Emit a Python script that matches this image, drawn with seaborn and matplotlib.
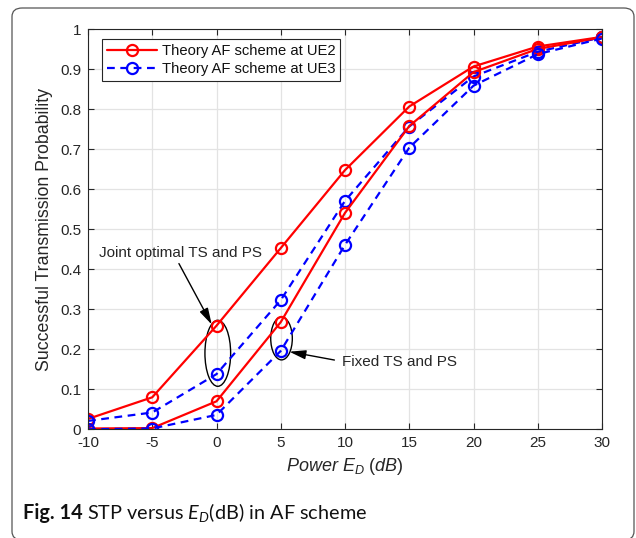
import matplotlib
matplotlib.use("Agg")
import matplotlib.pyplot as plt
import seaborn as sns
import pandas as pd
from matplotlib.patches import Ellipse, FancyBboxPatch
from matplotlib.lines import Line2D

# ---- data ----
power_db = [-10, -5, 0, 5, 10, 15, 20, 25, 30]
ue2_joint = [0.026, 0.080, 0.259, 0.453, 0.648, 0.807, 0.907, 0.957, 0.981]
ue3_joint = [0.021, 0.042, 0.138, 0.323, 0.571, 0.757, 0.882, 0.944, 0.980]
ue2_fixed = [0.002, 0.003, 0.070, 0.268, 0.541, 0.758, 0.893, 0.951, 0.980]
ue3_fixed = [0.000, 0.002, 0.036, 0.196, 0.461, 0.704, 0.859, 0.938, 0.977]

series_names = ["UE2 joint", "UE3 joint", "UE2 fixed", "UE3 fixed"]
series_vals = [ue2_joint, ue3_joint, ue2_fixed, ue3_fixed]
legend_labels = ["Theory AF scheme at UE2", "Theory AF scheme at UE3"]
xticks = [-10, -5, 0, 5, 10, 15, 20, 25, 30]
yticks = [0, 0.1, 0.2, 0.3, 0.4, 0.5, 0.6, 0.7, 0.8, 0.9, 1.0]
ytick_labels = ["0", "0.1", "0.2", "0.3", "0.4", "0.5", "0.6", "0.7", "0.8", "0.9", "1"]

rows = []
for name, vals in zip(series_names, series_vals):
    for x, y in zip(power_db, vals):
        rows.append({"power": x, "stp": y, "series": name})
df = pd.DataFrame(rows)

sns.set_theme(style="white")
plt.rcParams["font.family"] = ["Liberation Sans", "DejaVu Sans"]
plt.rcParams["mathtext.fontset"] = "custom"
plt.rcParams["mathtext.rm"] = "Liberation Sans"
plt.rcParams["mathtext.it"] = "Liberation Sans:italic"

fig = plt.figure(figsize=(6.36, 5.38), dpi=100)
ax = fig.add_axes([88 / 636, 1 - 429.3 / 538, (602 - 88) / 636, 400 / 538])

dash = (0, (3.5, 2.5))
styles = {
    "UE2 joint": ("#ff0000", "-"),
    "UE2 fixed": ("#ff0000", "-"),
    "UE3 joint": ("#0000ff", dash),
    "UE3 fixed": ("#0000ff", dash),
}
for name in series_names:
    color, ls = styles[name]
    sub = df[df["series"] == name]
    sns.lineplot(data=sub, x="power", y="stp", ax=ax, color=color,
                 linewidth=1.6, marker="o", markersize=8, markerfacecolor="none",
                 markeredgecolor=color, markeredgewidth=1.6, legend=False)
    ax.lines[-1].set_linestyle(ls)

ax.set_xlim(-10, 30)
ax.set_ylim(0, 1)
ax.set_xticks(xticks)
ax.set_xticklabels([str(t) for t in xticks])
ax.set_yticks(yticks)
ax.set_yticklabels(ytick_labels)
ax.grid(True, color="#e3e3e3", linewidth=0.9)
ax.set_axisbelow(True)
for sp in ax.spines.values():
    sp.set_color("#262626")
    sp.set_linewidth(0.8)
    sp.set_visible(True)
ax.tick_params(axis="both", direction="in", length=4, width=0.8, color="#262626",
               labelsize=11, labelcolor="#262626", top=True, right=True,
               bottom=True, left=True, pad=5)
ax.set_xlabel(r"$\it{Power}\ E_D\ \it{(dB)}$", fontsize=13, color="#262626", labelpad=4)
ax.set_ylabel("Successful Transmission Probability", fontsize=12.8, color="#262626", labelpad=5)

# ellipses
ax.add_patch(Ellipse((0.1, 0.19), 2.0, 0.165, fill=False, edgecolor="black", linewidth=1.0))
ax.add_patch(Ellipse((5.06, 0.227), 1.68, 0.107, fill=False, edgecolor="black", linewidth=1.0))

# annotations
ax.annotate("Joint optimal TS and PS", xy=(-0.37, 0.262), xytext=(-9.15, 0.44),
            fontsize=11, color="#262626", va="center", ha="left",
            arrowprops=dict(arrowstyle="-|>,head_length=0.9,head_width=0.25",
                            color="black", lw=1.0, shrinkA=0, shrinkB=0,
                            relpos=(0.48, 0.0)))
ax.annotate("Fixed TS and PS", xy=(5.67, 0.194), xytext=(9.75, 0.168),
            fontsize=11, color="#262626", va="center", ha="left",
            arrowprops=dict(arrowstyle="-|>,head_length=0.9,head_width=0.25",
                            color="black", lw=1.0, shrinkA=3, shrinkB=0,
                            relpos=(0.0, 0.55)))

# legend
handles = [
    Line2D([], [], color="#ff0000", linestyle="-", linewidth=1.6, marker="o",
           markersize=8, markerfacecolor="none", markeredgewidth=1.6),
    Line2D([], [], color="#0000ff", linestyle=dash, linewidth=1.6, marker="o",
           markersize=8, markerfacecolor="none", markeredgewidth=1.6),
]
leg = ax.legend(handles, legend_labels, loc="upper left", bbox_to_anchor=(0.027, 0.975),
                fontsize=10.6, frameon=True, fancybox=False, edgecolor="#262626",
                framealpha=1, handlelength=3.4, handletextpad=0.3, borderpad=0.35,
                labelspacing=0.25, borderaxespad=0)
leg.get_frame().set_linewidth(0.8)
for t in leg.get_texts():
    t.set_color("#111111")

# outer rounded frame (bottom edge falls just outside the image)
frame = FancyBboxPatch((12 / 636, -2 / 538), (634 - 12) / 636, (530 + 2) / 538,
                       boxstyle="round,pad=0,rounding_size=0.016",
                       transform=fig.transFigure, fill=False,
                       edgecolor="#555555", linewidth=0.9, clip_on=False)
fig.patches.append(frame)

# caption
cap_y = 1 - 513 / 538
cap_fam = ["Lato", "DejaVu Sans"]
t1 = fig.text(23 / 636, cap_y, "Fig. 14", fontsize=14.3, fontweight="bold",
              family=cap_fam, va="center", ha="left", color="#111111")
fig.canvas.draw()
bb = t1.get_window_extent(renderer=fig.canvas.get_renderer())
plt.rcParams["mathtext.rm"] = "Lato"
plt.rcParams["mathtext.it"] = "Lato:italic"
fig.text(bb.x1 / fig.bbox.width + 4 / 636, cap_y, r"STP versus $E_D$(dB) in AF scheme",
         fontsize=14.3, family=cap_fam, va="center", ha="left", color="#111111")

fig.savefig("out.png", dpi=100)
